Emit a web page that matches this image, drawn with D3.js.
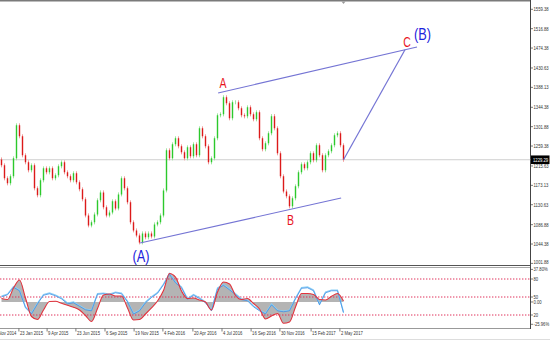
<!DOCTYPE html>
<html>
<head>
<meta charset="utf-8">
<script src="https://cdn.jsdelivr.net/npm/d3@7"></script>
<style>
  html, body { margin: 0; padding: 0; background: #fff; }
  svg { display: block; font-family: "Liberation Sans", Arial, sans-serif; }
</style>
</head>
<body>
<div id="chart"></div>
<script>
// daily closes, one per bar (open = previous close)
const FIRST_OPEN = 1230;
const CLOSES = [
  1217.0, 1188.5, 1177.5, 1192.9, 1232.4, 1304.8, 1280.7, 1239.0, 1223.6, 1206.0,
  1217.0, 1166.5, 1151.2, 1184.1, 1210.4, 1201.6, 1210.4, 1188.5, 1195.1, 1214.8,
  1223.6, 1201.6, 1192.9, 1184.1, 1199.5, 1179.7, 1164.3, 1142.4, 1107.2, 1085.3,
  1091.9, 1109.4, 1140.2, 1157.7, 1124.8, 1107.2, 1113.8, 1138.0, 1122.6, 1153.3,
  1188.5, 1166.5, 1135.8, 1091.9, 1074.3, 1063.3, 1048.0, 1067.7, 1059.0, 1067.7,
  1061.1, 1087.5, 1091.9, 1107.2, 1162.0, 1249.9, 1232.4, 1263.1, 1276.3, 1258.7,
  1245.5, 1232.4, 1256.5, 1236.7, 1263.1, 1239.0, 1298.2, 1280.7, 1258.7, 1223.6,
  1232.4, 1276.3, 1326.7, 1328.9, 1366.3, 1353.1, 1320.2, 1355.3, 1355.3, 1342.1,
  1326.7, 1324.5, 1344.3, 1328.9, 1318.0, 1333.3, 1276.3, 1252.1, 1265.3, 1287.3,
  1325.0, 1298.2, 1243.4, 1192.9, 1159.9, 1149.0, 1127.0, 1144.6, 1170.9, 1201.6,
  1219.2, 1210.4, 1223.6, 1243.4, 1228.0, 1260.9, 1239.0, 1206.0, 1239.0, 1247.7,
  1260.9, 1282.9, 1287.3, 1260.9, 1229.29
];
const LAST_PRICE = 1229.29;

const PRICE_TICKS = [1559.38, 1516.88, 1474.38, 1430.63, 1388.13, 1344.38, 1301.88,
  1259.38, 1215.63, 1173.13, 1130.63, 1086.88, 1044.38, 1001.88];

const DATE_LABELS = ["7 Nov 2014", "23 Jan 2015", "9 Apr 2015", "23 Jun 2015", "6 Sep 2015",
  "19 Nov 2015", "4 Feb 2016", "20 Apr 2016", "4 Jul 2016", "16 Sep 2016", "30 Nov 2016",
  "15 Feb 2017", "2 May 2017"];
const DATE_BARS = [-2.5, 5.8, 15.2, 24.8, 34.5, 44.2, 53.8, 63.8, 73.5, 83.2, 92.8, 103.2, 112.8];

// oscillator, one value every 2 bars
const OSC_RED = [47.5, 45.8, 65, 78.3, 48.3, 17.5, 12.5, 28.3, 42.5, 42.8,
  39.5, 36.2, 33, 28.3, 19.2, 9.2, 30.8, 53.3, 55, 51.7,
  51.7, 31.7, 11.7, 12.5, 21.7, 31.7, 43.3, 60.8, 89.2, 83.3,
  60, 47.5, 48.3, 45, 41.7, 28.3, 58.3, 75, 71.7, 52.5,
  45.8, 47.5, 39.2, 30, 13.3, 18.3, 22.5, 6.2, 8.3, 33.3,
  55.8, 55.8, 54.2, 45.8, 45, 51.2, 55.8, 43.3];
const OSC_BLUE = [51.7, 55, 67.5, 61.7, 33.3, 23.3, 40, 54.2, 56.7, 53.3,
  48.3, 40, 41.7, 35.8, 30, 28.3, 55.8, 56.7, 55, 58.3,
  56.7, 43.3, 22.8, 28.3, 41.7, 50.5, 57.5, 71.7, 89.2, 75,
  66.7, 47.5, 54.2, 48.7, 41.7, 28.3, 65, 70.8, 63.3, 55.3,
  47, 45, 35, 28.3, 23.3, 38.3, 28.3, 26.7, 28.3, 48.3,
  65.8, 66.7, 61.7, 38.3, 58.3, 61.7, 61.7, 25];
const OSC_LEVELS = [80, 50, 20];
const OSC_ZERO = 41.7;
const OSC_LABELS = ["37.80%", "80", "50", "0.00", "20", "-25.96%"];
const OSC_LABEL_VALUES = [96, 80, 50, 41.7, 20, 4.5];

// wave lines [bar1, price1, bar2, price2]
const WAVE_LINES = [
  [46.2, 1046.6, 113.2, 1145.4],
  [72.2, 1375.7, 138.5, 1476.6],
  [114, 1229.29, 134.5, 1470.5]
];
const WAVE_TEXT = ["A", "B", "C", "(B)", "(A)"];
const WAVE_BARS = [73.8, 96.3, 135.2, 140.3, 46.5];
const WAVE_PRICES = [1397.7, 1097.1, 1487.6, 1504.1, 1018.1];
const WAVE_MAJOR = [false, false, false, true, true];

const W = 550, H = 341;
const AX = 530.5;
const SX = 0.75; // horizontal squeeze of all text

const svg = d3.select("#chart").append("svg").attr("width", W).attr("height", H);

const x  = d3.scaleLinear().domain([0, 176]).range([1.5, 529.5]);
const y  = d3.scaleLinear().domain([1001.88, 1559.38]).range([263.4, 9.3]);
const yo = d3.scaleLinear().domain([0, 100]).range([327, 267]);

function txt(g, s, px, py, size, color, anchor) {
  return g.append("text")
    .attr("transform", `translate(${px},${py}) scale(${SX},1)`)
    .attr("dy", "0.35em")
    .attr("text-anchor", anchor || "start")
    .attr("font-size", size)
    .attr("fill", color)
    .text(s);
}

svg.append("clipPath").attr("id", "mainClip")
  .append("rect").attr("x", 0).attr("y", 1).attr("width", AX).attr("height", 264);
svg.append("clipPath").attr("id", "oscClip")
  .append("rect").attr("x", 0).attr("y", 268).attr("width", AX).attr("height", 60);

// frames
svg.append("line").attr("x1", 0).attr("x2", AX).attr("y1", 0.75).attr("y2", 0.75)
  .attr("stroke", "#7a7a7a").attr("stroke-width", 1.5);
svg.append("line").attr("x1", 0).attr("x2", AX).attr("y1", 265.5).attr("y2", 265.5)
  .attr("stroke", "#555").attr("stroke-width", 1);
svg.append("line").attr("x1", 0).attr("x2", AX).attr("y1", 267.5).attr("y2", 267.5)
  .attr("stroke", "#aaa").attr("stroke-width", 1);
svg.append("line").attr("x1", 0).attr("x2", AX).attr("y1", 328.5).attr("y2", 328.5)
  .attr("stroke", "#999").attr("stroke-width", 1);
svg.append("line").attr("x1", 0).attr("x2", W).attr("y1", 339.5).attr("y2", 339.5)
  .attr("stroke", "#ddd").attr("stroke-width", 1);
svg.append("line").attr("x1", AX).attr("x2", AX).attr("y1", 0).attr("y2", 329)
  .attr("stroke", "#444").attr("stroke-width", 1);

// main panel
const main = svg.append("g").attr("clip-path", "url(#mainClip)");

main.append("line")
  .attr("x1", 0).attr("x2", AX)
  .attr("y1", y(LAST_PRICE)).attr("y2", y(LAST_PRICE))
  .attr("stroke", "#cfcfcf").attr("stroke-width", 1);

const bars = CLOSES.map((c, i) => ({ i, open: i ? CLOSES[i - 1] : FIRST_OPEN, close: c }));

main.selectAll(".wick")
  .data(bars)
  .join("line")
  .attr("class", "wick")
  .attr("x1", d => x(d.i)).attr("x2", d => x(d.i))
  .attr("y1", d => y(Math.max(d.open, d.close)) - 2)
  .attr("y2", d => y(Math.min(d.open, d.close)) + 2)
  .attr("stroke", d => d.close >= d.open ? "#9ee69e" : "#f19a9a")
  .attr("stroke-width", 1);

main.selectAll(".body")
  .data(bars)
  .join("line")
  .attr("class", "body")
  .attr("x1", d => x(d.i)).attr("x2", d => x(d.i))
  .attr("y1", d => y(d.open))
  .attr("y2", d => y(d.close))
  .attr("stroke", d => d.close >= d.open ? "#2cc92c" : "#dc1a1a")
  .attr("stroke-width", 1.4);

main.selectAll(".wave")
  .data(WAVE_LINES)
  .join("line")
  .attr("class", "wave")
  .attr("x1", d => x(d[0])).attr("y1", d => y(d[1]))
  .attr("x2", d => x(d[2])).attr("y2", d => y(d[3]))
  .attr("stroke", "#7474d4").attr("stroke-width", 1.2);

WAVE_TEXT.forEach((t, k) => {
  txt(main, t, x(WAVE_BARS[k]), y(WAVE_PRICES[k]), WAVE_MAJOR[k] ? 17 : 14,
    WAVE_MAJOR[k] ? "#1c22dc" : "#e8141e", "middle");
});

// shift marker
const lastX = x(CLOSES.length - 1);
svg.append("path")
  .attr("d", `M${lastX - 2},1.5 L${lastX + 2},1.5 L${lastX},4 Z`)
  .attr("fill", "#999");

// price axis
const ax = svg.append("g");
PRICE_TICKS.forEach(p => {
  ax.append("line").attr("x1", AX).attr("x2", AX + 2.5)
    .attr("y1", y(p)).attr("y2", y(p)).attr("stroke", "#444").attr("stroke-width", 0.7);
  txt(ax, p.toFixed(2), AX + 3, p === 1001.88 ? y(p) - 1.5 : y(p), 5.6, "#333");
});
ax.append("rect")
  .attr("x", AX + 0.5).attr("y", y(LAST_PRICE) - 4.3)
  .attr("width", 18.5).attr("height", 8.6).attr("fill", "#000");
txt(ax, LAST_PRICE.toFixed(2), AX + 2.5, y(LAST_PRICE), 5.6, "#fff");

// oscillator panel
const osc = svg.append("g").attr("clip-path", "url(#oscClip)");

osc.append("path")
  .datum(OSC_RED)
  .attr("d", d3.area()
    .x((d, k) => x(2 * k))
    .y0(yo(OSC_ZERO))
    .y1(d => yo(d))
    .curve(d3.curveMonotoneX))
  .attr("fill", "#b4b4b4");

osc.selectAll(".lvl")
  .data(OSC_LEVELS)
  .join("line")
  .attr("class", "lvl")
  .attr("x1", 0).attr("x2", AX)
  .attr("y1", d => yo(d)).attr("y2", d => yo(d))
  .attr("stroke", "#e0305a").attr("stroke-width", 1)
  .attr("stroke-dasharray", "1.4,1.6");

osc.append("path")
  .datum(OSC_BLUE)
  .attr("d", d3.line().x((d, k) => x(2 * k)).y(d => yo(d)))
  .attr("fill", "none").attr("stroke", "#8ccff5").attr("stroke-width", 1.2);
osc.append("path")
  .datum(OSC_BLUE)
  .attr("d", d3.line().x((d, k) => x(2 * k)).y(d => yo(d) + 0.8))
  .attr("fill", "none").attr("stroke", "#3d8fe6").attr("stroke-width", 0.8);

osc.append("path")
  .datum(OSC_RED)
  .attr("d", d3.line().x((d, k) => x(2 * k)).y(d => yo(d)).curve(d3.curveMonotoneX))
  .attr("fill", "none").attr("stroke", "#e2323c").attr("stroke-width", 1.1);

OSC_LABELS.forEach((s, k) => {
  const v = OSC_LABEL_VALUES[k];
  ax.append("line").attr("x1", AX).attr("x2", AX + 2.5)
    .attr("y1", yo(v)).attr("y2", yo(v)).attr("stroke", "#444").attr("stroke-width", 0.7);
  txt(ax, s, AX + 3, yo(v), 5.6, "#333");
});

// date axis
DATE_LABELS.forEach((s, k) => {
  const px = x(DATE_BARS[k]);
  svg.append("line").attr("x1", px).attr("x2", px).attr("y1", 328.5).attr("y2", 331.5)
    .attr("stroke", "#444").attr("stroke-width", 0.7);
  txt(svg, s, px + 1, 333.5, 5.6, "#333");
});
</script>
</body>
</html>
